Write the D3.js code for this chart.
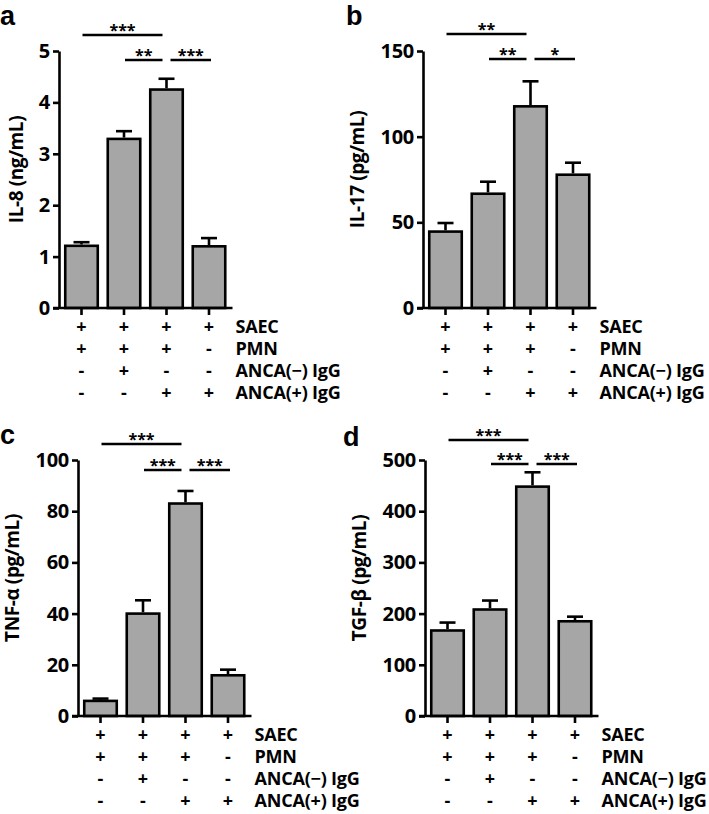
<!DOCTYPE html>
<html>
<head>
<meta charset="utf-8">
<script src="https://cdn.jsdelivr.net/npm/d3@7"></script>
<style>
  body { margin: 0; background: #fff; }
  text { font-family: "Open Sans", sans-serif; font-weight: 700; }
</style>
</head>
<body>
<div id="chart"></div>
<script>
// values

const groups = ["g1", "g2", "g3", "g4"];
const rowLabels = ["SAEC", "PMN", "ANCA(\u2212) IgG", "ANCA(+) IgG"];
const rowSigns = [
  ["+", "+", "+", "+"],
  ["+", "+", "+", "-"],
  ["-", "+", "-", "-"],
  ["-", "-", "+", "+"]
];

const il8Means = [1.21, 3.29, 4.25, 1.2];
const il8Errors = [0.07, 0.15, 0.21, 0.16];
const il8Ticks = [0, 1, 2, 3, 4, 5];

const il17Means = [44.6, 66.7, 117.7, 77.8];
const il17Errors = [5, 7, 14.6, 7];
const il17Ticks = [0, 50, 100, 150];

const tnfMeans = [5.9, 40, 83, 15.9];
const tnfErrors = [0.9, 5.2, 4.9, 2.2];
const tnfTicks = [0, 20, 40, 60, 80, 100];

const tgfMeans = [167, 208, 448, 185];
const tgfErrors = [15.5, 17.5, 28, 9];
const tgfTicks = [0, 100, 200, 300, 400, 500];

const titles = ["IL-8 (ng/mL)", "IL-17 (pg/mL)", "TNF-\u03b1 (pg/mL)", "TGF-\u03b2 (pg/mL)"];
const letters = ["a", "b", "c", "d"];

// significance brackets: [from group, to group, level]
const sigPairs = [[0, 2, 0], [1, 2, 1], [2, 3, 1]];
const sigA = ["***", "**", "***"];
const sigB = ["**", "**", "*"];
const sigC = ["***", "***", "***"];
const sigD = ["***", "***", "***"];

// layout only
const panels = [
  { means: il8Means, errors: il8Errors, ticks: il8Ticks, sig: sigA, x0: 59, top: 51, bottom: 308, lx: 0, ly: 24.5, sigY: [-16, 9] },
  { means: il17Means, errors: il17Errors, ticks: il17Ticks, sig: sigB, x0: 423, top: 51, bottom: 308, lx: 346, ly: 24.5, sigY: [-17, 8] },
  { means: tnfMeans, errors: tnfErrors, ticks: tnfTicks, sig: sigC, x0: 78, top: 460, bottom: 716, lx: 0, ly: 444, sigY: [-16, 10] },
  { means: tgfMeans, errors: tgfErrors, ticks: tgfTicks, sig: sigD, x0: 425, top: 460, bottom: 716, lx: 343, ly: 446, sigY: [-20, 4] }
];

const svg = d3.select("#chart")
  .append("svg")
  .attr("width", 709)
  .attr("height", 814);

const sw = 2.6;
const plotW = 172.5;

panels.forEach((p, pi) => {
  const g = svg.append("g");

  const x = d3.scaleBand()
    .domain(groups)
    .range([p.x0, p.x0 + plotW])
    .paddingInner(0.235)
    .paddingOuter(0.147);

  const y = d3.scaleLinear()
    .domain([0, d3.max(p.ticks)])
    .range([p.bottom, p.top]);

  const cx = i => x(groups[i]) + x.bandwidth() / 2;

  // bars
  g.selectAll("rect.bar")
    .data(p.means)
    .join("rect")
    .attr("class", "bar")
    .attr("x", (d, i) => x(groups[i]))
    .attr("width", x.bandwidth())
    .attr("y", d => y(d))
    .attr("height", d => y(0) - y(d))
    .attr("fill", "#a6a6a6")
    .attr("stroke", "#000")
    .attr("stroke-width", sw);

  // error bars (upper only)
  const err = g.selectAll("g.err")
    .data(p.means)
    .join("g")
    .attr("class", "err");
  err.append("line")
    .attr("x1", (d, i) => cx(i))
    .attr("x2", (d, i) => cx(i))
    .attr("y1", d => y(d) - sw / 2)
    .attr("y2", (d, i) => y(d + p.errors[i]))
    .attr("stroke", "#000")
    .attr("stroke-width", sw);
  err.append("line")
    .attr("x1", (d, i) => cx(i) - 8)
    .attr("x2", (d, i) => cx(i) + 8)
    .attr("y1", (d, i) => y(d + p.errors[i]))
    .attr("y2", (d, i) => y(d + p.errors[i]))
    .attr("stroke", "#000")
    .attr("stroke-width", sw);

  // y axis
  const yAxis = g.append("g")
    .attr("transform", `translate(${p.x0},0)`)
    .call(d3.axisLeft(y)
      .tickValues(p.ticks)
      .tickFormat(d3.format("d"))
      .tickSize(6)
      .tickSizeOuter(0)
      .tickPadding(3));
  yAxis.selectAll("path, line").attr("stroke", "#000").attr("stroke-width", sw);
  yAxis.selectAll("text")
    .attr("fill", "#000")
    .style("font-family", "'Open Sans', sans-serif")
    .style("font-weight", 700)
    .style("font-size", "20px")
    .style("letter-spacing", "-0.3px");

  // x axis line and ticks
  g.append("line")
    .attr("x1", p.x0 - 6)
    .attr("x2", p.x0 + plotW + 1)
    .attr("y1", y(0))
    .attr("y2", y(0))
    .attr("stroke", "#000")
    .attr("stroke-width", sw);
  g.selectAll("line.xt")
    .data(groups)
    .join("line")
    .attr("class", "xt")
    .attr("x1", d => x(d) + x.bandwidth() / 2)
    .attr("x2", d => x(d) + x.bandwidth() / 2)
    .attr("y1", y(0))
    .attr("y2", y(0) + 7)
    .attr("stroke", "#000")
    .attr("stroke-width", sw);

  // y title, placed left of the widest tick label
  const labelLeft = d3.min(yAxis.selectAll("text").nodes(), n => p.x0 + n.getBBox().x);
  g.append("text")
    .attr("transform", `translate(${labelLeft - 23},${(p.top + p.bottom) / 2 - 10}) rotate(-90)`)
    .attr("text-anchor", "middle")
    .attr("dy", "0.35em")
    .style("font-size", "19px")
    .style("letter-spacing", "-0.4px")
    .text(titles[pi]);

  // condition table
  rowLabels.forEach((lab, r) => {
    const ry = y(0) + 19 + r * 21.8;
    g.selectAll(null)
      .data(rowSigns[r])
      .join("text")
      .attr("x", (d, i) => cx(i))
      .attr("y", ry)
      .attr("dy", "0.36em")
      .attr("text-anchor", "middle")
      .style("font-size", "18px")
      .text(d => d);
    g.append("text")
      .attr("x", p.x0 + plotW + 4)
      .attr("y", ry)
      .attr("dy", "0.36em")
      .style("font-size", "18px")
      .style("letter-spacing", "-0.2px")
      .text(lab);
  });

  // significance lines
  sigPairs.forEach(([a, b, lvl], k) => {
    const shareStart = sigPairs.some(s => s !== sigPairs[k] && s[1] === a);
    const shareEnd = sigPairs.some(s => s !== sigPairs[k] && s[0] === b);
    const x1 = cx(a) + (shareStart ? 4 : 1);
    const x2 = cx(b) + (shareEnd ? -4 : 2);
    const ly = p.top + p.sigY[lvl];
    g.append("line")
      .attr("x1", x1).attr("x2", x2)
      .attr("y1", ly).attr("y2", ly)
      .attr("stroke", "#000")
      .attr("stroke-width", sw);
    g.append("text")
      .attr("x", (x1 + x2) / 2)
      .attr("y", ly + 1)
      .attr("text-anchor", "middle")
      .style("font-size", "16px")
      .text(p.sig[k]);
  });

  // panel letter
  g.append("text")
    .attr("x", p.lx)
    .attr("y", p.ly)
    .style("font-family", "'Liberation Sans', sans-serif")
    .style("font-size", "27px")
    .text(letters[pi]);
});
</script>
</body>
</html>
